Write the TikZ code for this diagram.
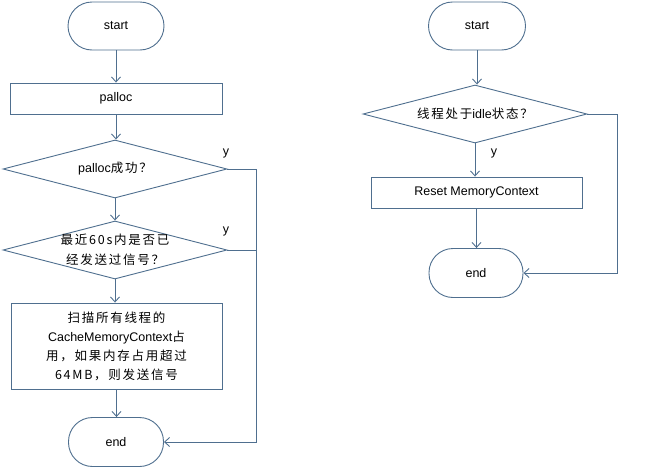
\documentclass[tikz,border=0pt]{standalone}
\usepackage{fontspec}
\setmainfont{Liberation Sans}
\newfontfamily\cjk[LetterSpace=14]{Noto Sans CJK SC}
\usetikzlibrary{shapes.geometric,arrows.meta}
\definecolor{ln}{HTML}{4F6F8F}
\begin{document}
\begin{tikzpicture}[x=1pt,y=-1pt,
  every node/.style={font=\fontsize{12.5}{15}\selectfont, text=black},
  base/.style={draw=ln, line width=0.9pt, fill=white, inner sep=0pt},
  term/.style={base, rectangle, rounded corners=24pt, minimum width=96pt, minimum height=48pt},
  proc/.style={base, rectangle, minimum width=211pt, minimum height=31pt},
  dec/.style={base, diamond, minimum width=224pt, minimum height=58pt},
  txt/.style={inner sep=0pt, align=center},
  conn/.style={draw=ln, line width=0.9pt, -{Straight Barb[length=5pt,width=9pt]}},
  plain/.style={draw=ln, line width=0.9pt},
  lab/.style={font=\fontsize{12.5}{15}\selectfont}
]
\useasboundingbox (0,0) rectangle (648,474);
% left flow
\node[term] (s1) at (116,26) {start};
\node[proc, minimum width=212pt] (p1) at (116,98.5) {palloc};
\node[dec] (d1) at (115,169) {};
\node[txt] (t1) at (d1.center) {palloc{\cjk 成功？}};
\node[dec] (d2) at (115,250) {};
\node[txt, font=\fontsize{12.5}{20}\selectfont] (t2) at (d2.center) {{\cjk 最近60s内是否已}\\{\cjk 经发送过信号？}};
\node[proc, minimum height=86pt, align=center, font=\fontsize{12.5}{19}\selectfont] (b3) at (116.5,346)
  {{\cjk 扫描所有线程的}\\CacheMemoryContext{\cjk 占}\\{\cjk 用，如果内存占用超过}\\{\cjk 64MB，则发送信号}};
\node[term, minimum width=95pt, minimum height=49pt] (e1) at (116,442) {end};
\draw[conn] (s1.south) -- (s1.south |- p1.north);
\draw[conn] (p1.south) -- (p1.south |- d1.north);
\draw[conn] (d1.south) -- (d1.south |- d2.north);
\draw[conn] (d2.south) -- (d2.south |- b3.north);
\draw[conn] (b3.south) -- (b3.south |- e1.north);
\coordinate (c1) at (256,169);
\coordinate (c2) at (256,250);
\draw[conn] (d1.east) -- (c1) |- (e1.east);
\draw[plain] (d2.east) -- (c2);
\node[lab] (y1) at (226,153) {y};
\node[lab] (y2) at (226,231) {y};
% right flow
\node[term, minimum width=97pt] (s2) at (477,26) {start};
\node[dec] (d3) at (475,114) {};
\node[txt] (t3) at (d3.center) {{\cjk 线程处于}idle{\cjk 状态？}};
\node[proc] (r1) at (476.5,192.5) {Reset MemoryContext};
\node[term, minimum width=94pt, minimum height=49pt] (e2) at (476,273) {end};
\draw[conn] (s2.south) -- (s2.south |- d3.north);
\draw[conn] (d3.south) -- (d3.south |- r1.north);
\draw[conn] (r1.south) -- (r1.south |- e2.north);
\coordinate (c3) at (617,114);
\draw[conn] (d3.east) -- (c3) |- (e2.east);
\node[lab] (y3) at (494,153) {y};
\end{tikzpicture}
\end{document}
